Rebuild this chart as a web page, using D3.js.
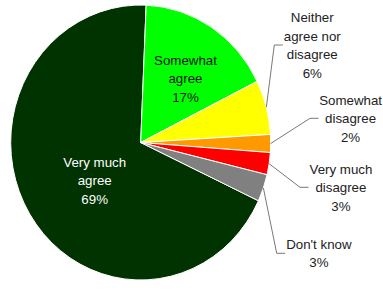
<!DOCTYPE html>
<html>
<head>
<meta charset="utf-8">
<script src="https://cdn.jsdelivr.net/npm/d3@7"></script>
<style>
  body { margin: 0; background: #fff; }
  svg { display: block; }
  text { font-family: "Liberation Sans", Arial, sans-serif; font-size: 13.3px; }
</style>
</head>
<body>
<div id="chart"></div>
<script>
// donnees
var categories = ["Very much agree", "Somewhat agree", "Neither agree nor disagree",
                  "Somewhat disagree", "Very much disagree", "Don't know"];
var values = [68.7, 17.0, 6.4, 2.1, 2.6, 3.2];
var colors = ["#003300", "#00ff00", "#ffff00", "#ff9900", "#ff0000", "#808080"];
// lignes des etiquettes
var labelLines = [["Very much", "agree"], ["Somewhat", "agree"], ["Neither", "agree nor", "disagree"],
                  ["Somewhat", "disagree"], ["Very much", "disagree"], ["Don't know"]];

var width = 383, height = 299,
    cx = 140.7, cy = 142.5,
    ry = 137.5, rx = 130,
    lineH = 18.5;

// etiquettes interieures : rayon relatif, decalage d'angle, couleur
var inside = {0: {r: 0.45, da: -0.12, fill: "#fff"}, 1: {r: 0.58, da: 0.06, fill: "#111"}};
// etiquettes exterieures : coude du trait
var elbows = {2: [274.3, 45], 3: [310, 118.3], 4: [300, 187.3], 5: [276.7, 253.3]};

var total = d3.sum(values);
var startDeg = 2.4; // bord haut de "Somewhat agree"
var start = startDeg * Math.PI / 180 - 2 * Math.PI * values[0] / total;

var pie = d3.pie().sort(null).value(d => d)
  .startAngle(start).endAngle(start + 2 * Math.PI);
var arcs = pie(values);
var arc = d3.arc().innerRadius(0).outerRadius(ry);

var svg = d3.select("#chart").append("svg")
  .attr("width", width).attr("height", height);

var g = svg.append("g")
  .attr("transform", "translate(" + cx + "," + cy + ") scale(" + (rx / ry) + ",1)");

g.selectAll("path").data(arcs).enter().append("path")
  .attr("d", arc)
  .style("fill", (d, i) => colors[i])
  .style("stroke", "#fff")
  .style("stroke-width", 1)
  .attr("vector-effect", "non-scaling-stroke");

// position sur l'ellipse
function pt(a, k) {
  return [cx + Math.sin(a) * rx * k, cy - Math.cos(a) * ry * k];
}

function pct(v) { return Math.round(v / total * 100) + "%"; }

function block(x, y, lines, fill) {
  var t = svg.append("g");
  lines.forEach(function(s, j) {
    t.append("text")
      .attr("x", x).attr("y", y + (j - (lines.length - 1) / 2) * lineH)
      .attr("dy", "0.36em")
      .attr("text-anchor", "middle")
      .style("fill", fill)
      .text(s);
  });
  return t;
}

arcs.forEach(function(d, i) {
  var mid = (d.startAngle + d.endAngle) / 2;
  var lines = labelLines[i].concat([pct(d.value)]);
  if (inside[i]) {
    var p = pt(mid + inside[i].da, inside[i].r);
    block(p[0], p[1], lines, inside[i].fill);
  } else {
    var p0 = pt(mid, 1), e = elbows[i];
    var end = [e[0] + 8.5, e[1]];
    svg.append("path")
      .attr("d", "M" + p0 + "L" + e + "L" + end)
      .style("fill", "none").style("stroke", "#555").style("stroke-width", 0.8);
    var t = block(0, e[1], lines, "#222");
    var w = d3.max(t.selectAll("text").nodes(), n => n.getComputedTextLength());
    t.selectAll("text").attr("x", Math.min(end[0] + 1 + w / 2, width - 1 - w / 2));
  }
});
</script>
</body>
</html>
